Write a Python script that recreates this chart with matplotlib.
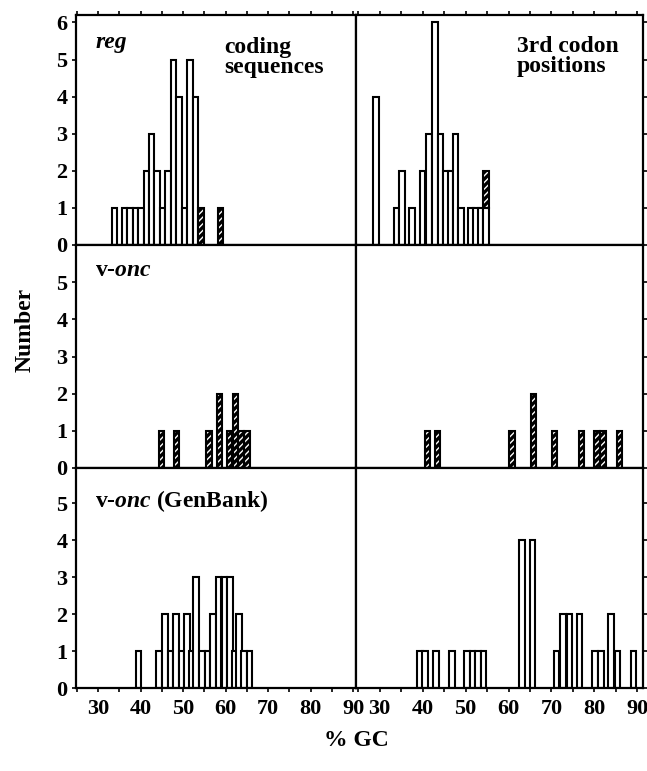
import numpy as np
import matplotlib
matplotlib.use("Agg")
import matplotlib.pyplot as plt
from matplotlib.ticker import MultipleLocator

plt.rcParams['font.family'] = ['Liberation Serif', 'DejaVu Serif']
plt.rcParams['font.weight'] = 'bold'
plt.rcParams['mathtext.fontset'] = 'custom'
plt.rcParams['mathtext.rm'] = 'Liberation Serif:bold'
plt.rcParams['mathtext.it'] = 'Liberation Serif:italic:bold'
plt.rcParams['hatch.linewidth'] = 1.0

# ── Données (centre de classe %GC, effectifs ouverts / hachurés empilés) ──
reg_cds_gc = [33.9, 36.2, 37.5, 38.8, 40.1, 41.4, 42.6, 43.9, 45.2, 46.5,
              47.8, 49.1, 50.3, 51.6, 52.9, 54.2, 58.8]
reg_cds_open = [1, 1, 1, 1, 1, 2, 3, 2, 1, 2, 5, 4, 1, 5, 4, 0, 0]
reg_cds_hatch = [0, 0, 0, 0, 0, 0, 0, 0, 0, 0, 0, 0, 0, 0, 0, 1, 1]

reg_gc3_gc = [29.2, 33.9, 35.2, 37.6, 40.0, 41.5, 42.9, 44.2, 45.4, 46.5,
              47.7, 49.0, 51.2, 52.4, 53.5, 54.7]
reg_gc3_open = [4, 1, 2, 1, 2, 3, 6, 3, 2, 2, 3, 1, 1, 1, 1, 1]
reg_gc3_hatch = [0, 0, 0, 0, 0, 0, 0, 0, 0, 0, 0, 0, 0, 0, 0, 1]

vonc_cds_gc = [44.9, 48.5, 56.1, 58.6, 60.9, 62.3, 63.6, 65.0]
vonc_cds_open = [0, 0, 0, 0, 0, 0, 0, 0]
vonc_cds_hatch = [1, 1, 1, 2, 1, 2, 1, 1]

vonc_gc3_gc = [41.1, 43.5, 60.8, 65.8, 70.7, 77.0, 80.6, 82.0, 85.8]
vonc_gc3_open = [0, 0, 0, 0, 0, 0, 0, 0, 0]
vonc_gc3_hatch = [1, 1, 1, 2, 1, 1, 1, 1, 1]

gb_cds_gc = [39.5, 44.3, 45.7, 47.0, 48.3, 49.6, 50.9, 52.0, 53.1, 54.4,
             55.7, 57.0, 58.3, 59.7, 61.0, 62.1, 63.2, 64.4, 65.6]
gb_cds_open = [1, 1, 2, 1, 2, 1, 2, 1, 3, 1, 1, 2, 3, 3, 3, 1, 2, 1, 1]
gb_cds_hatch = [0] * 19

gb_gc3_gc = [39.4, 40.6, 43.1, 46.8, 50.3, 51.6, 52.9, 54.2, 63.1, 65.6,
             71.2, 72.7, 74.2, 76.5, 80.1, 81.5, 83.9, 85.4, 89.1]
gb_gc3_open = [1, 1, 1, 1, 1, 1, 1, 1, 4, 4, 1, 2, 2, 2, 1, 1, 2, 1, 1]
gb_gc3_hatch = [0] * 19

BAR_W = 1.3
W, H = 647, 771


def _rect(x0, y0, x1, y1):
    """Pixels (haut-gauche) -> fraction de figure."""
    return [x0 / W, 1 - y1 / H, (x1 - x0) / W, (y1 - y0) / H]


def draw_hist(ax, gc, n_open, n_hatch):
    gc = np.asarray(gc)
    n_open = np.asarray(n_open)
    n_hatch = np.asarray(n_hatch)
    m = n_open > 0
    ax.bar(gc[m], n_open[m], width=BAR_W, color='white',
           edgecolor='black', linewidth=1.5, zorder=2)
    m = n_hatch > 0
    ax.bar(gc[m], n_hatch[m], bottom=n_open[m], width=BAR_W, color='black',
           edgecolor='white', hatch='/////', linewidth=0, zorder=2)
    ax.bar(gc[m], n_hatch[m], bottom=n_open[m], width=BAR_W, fill=False,
           edgecolor='black', linewidth=1.5, zorder=3)


fig = plt.figure(figsize=(W / 100, H / 100), dpi=100)

rows = [(15, 245), (245, 468), (468, 688)]
ytops = [6.2, 6.0, 5.95]
panels = [
    [(reg_cds_gc, reg_cds_open, reg_cds_hatch), (reg_gc3_gc, reg_gc3_open, reg_gc3_hatch)],
    [(vonc_cds_gc, vonc_cds_open, vonc_cds_hatch), (vonc_gc3_gc, vonc_gc3_open, vonc_gc3_hatch)],
    [(gb_cds_gc, gb_cds_open, gb_cds_hatch), (gb_gc3_gc, gb_gc3_open, gb_gc3_hatch)],
]
cols = [((76, 356), (24.8, 90.7)), ((356, 643), (24.5, 91.3))]

axes = []
for r, (y0, y1) in enumerate(rows):
    row_axes = []
    for c, ((x0, x1), xlim) in enumerate(cols):
        ax = fig.add_axes(_rect(x0, y0, x1, y1))
        gc, n_open, n_hatch = panels[r][c]
        draw_hist(ax, gc, n_open, n_hatch)
        ax.set_xlim(*xlim)
        ax.set_ylim(0, ytops[r])
        ax.xaxis.set_major_locator(MultipleLocator(10))
        ax.xaxis.set_minor_locator(MultipleLocator(5))
        ax.set_yticks(range(0, 7 if r == 0 else 6))
        for s in ax.spines.values():
            s.set_linewidth(1.6)
        ax.tick_params(axis='x', which='both', direction='out', length=3,
                       width=1.2, top=(r == 0), labelsize=16,
                       labelbottom=(r == 2), pad=5)
        ax.tick_params(axis='y', direction='out', length=3, width=1.2,
                       left=(c == 0), right=(c == 1),
                       labelleft=(c == 0), labelsize=16, pad=3)
        for lab in ax.get_xticklabels() + ax.get_yticklabels():
            lab.set_fontweight('bold')
        row_axes.append(ax)
    axes.append(row_axes)

# ── Étiquettes des panneaux ──
txt = dict(fontsize=17, fontweight='bold', ha='left', va='center')
axes[0][0].text(0.07, 0.88, 'reg', style='italic',
                transform=axes[0][0].transAxes, **txt)
axes[0][0].text(0.53, 0.815, 'coding\nsequences', linespacing=0.9,
                transform=axes[0][0].transAxes, **txt)
axes[0][1].text(0.56, 0.82, '3rd codon\npositions', linespacing=0.9,
                transform=axes[0][1].transAxes, **txt)
axes[1][0].text(0.068, 0.885, r'v-$\mathit{onc}$',
                transform=axes[1][0].transAxes, **txt)
axes[2][0].text(0.068, 0.85, r'v-$\mathit{onc}$ (GenBank)',
                transform=axes[2][0].transAxes, **txt)

fig.text(25 / W, 1 - 330 / H, 'Number', rotation=90, fontsize=17,
         fontweight='bold', ha='center', va='center')
fig.text(356 / W, 1 - 741 / H, '% GC', fontsize=17, fontweight='bold',
         ha='center', va='center')

fig.savefig('out.png', dpi=100)
